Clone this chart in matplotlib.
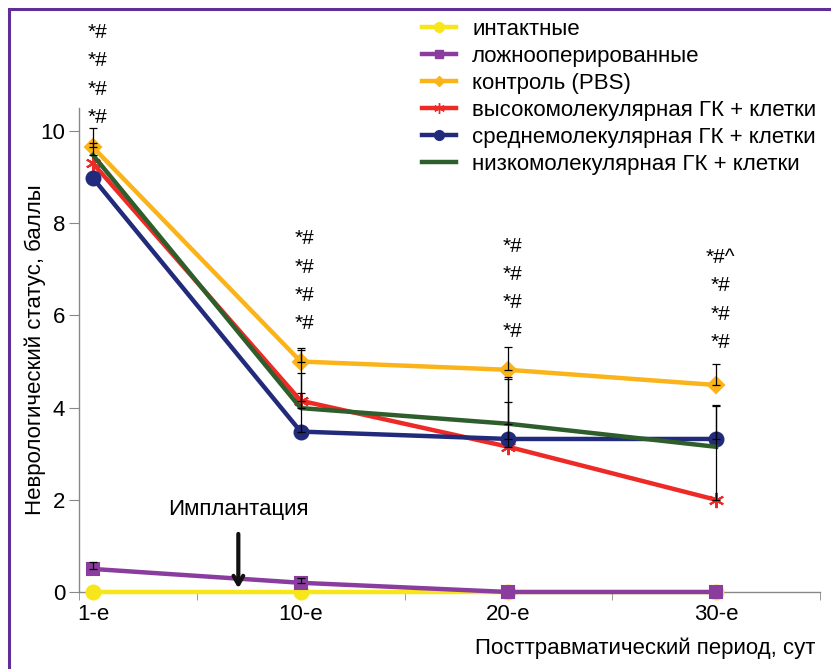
import numpy as np
import matplotlib.pyplot as plt
from matplotlib.patches import Rectangle

plt.rcParams['font.family'] = ['Liberation Sans', 'DejaVu Sans']

# --- data ---
days = ['1-е', '10-е', '20-е', '30-е']
labels = ['интактные', 'ложнооперированные', 'контроль (PBS)',
          'высокомолекулярная ГК + клетки', 'среднемолекулярная ГК + клетки',
          'низкомолекулярная ГК + клетки']

intact = [0, 0, 0, 0]
sham = [0.5, 0.2, 0, 0]
control = [9.65, 5.0, 4.82, 4.49]
high_mw = [9.3, 4.15, 3.15, 2.0]
mid_mw = [8.98, 3.48, 3.32, 3.32]
low_mw = [9.48, 3.99, 3.65, 3.15]

# upper ends of the error bars
intact_top = [0, 0, 0, 0]
sham_top = [0.65, 0.3, 0, 0]
control_top = [10.07, 5.29, 5.32, 4.95]
high_top = [9.3, 4.75, 4.12, 4.05]
mid_top = [8.98, 5.25, 4.66, 4.03]
low_top = [9.74, 4.32, 4.62, 3.15]

marks = [['*#', '*#', '*#', '*#'],
         ['*#', '*#', '*#', '*#'],
         ['*#', '*#', '*#', '*#'],
         ['*#^', '*#', '*#', '*#']]

series = [intact, sham, control, high_mw, mid_mw, low_mw]
tops = [intact_top, sham_top, control_top, high_top, mid_top, low_top]
colors = ['#f6e61a', '#8a3d9f', '#fbb31a', '#ee2a26', '#222a7c', '#2e5e2c']
markers = ['o', 's', 'D', (6, 2, 0), 'o', None]
msizes = [10, 9, 8, 11, 10, 0]

FS = 16
W, H = 831, 669
fig = plt.figure(figsize=(W / 100, H / 100), dpi=100)
fig.add_artist(Rectangle((8.5 / W, -0.05), 1.3, 1 - 8.5 / H + 0.05,
                         transform=fig.transFigure, fill=False,
                         edgecolor='#5e2f94', linewidth=2.2))

ax = fig.add_axes([79 / W, 1 - 592 / H, (820 - 79) / W, (592 - 108) / H])
x = np.arange(len(days))

for vals, col, mk, ms in zip(series, colors, markers, msizes):
    ax.plot(x, vals, color=col, lw=3.2, marker=mk, ms=ms, mew=1.5,
            clip_on=False, zorder=3)

for vals, top in zip(series, tops):
    vals = np.array(vals, dtype=float)
    up = np.array(top, dtype=float) - vals
    keep = up > 0
    if keep.any():
        ax.errorbar(x[keep], vals[keep], yerr=[np.zeros(keep.sum()), up[keep]],
                    fmt='none', ecolor='black', elinewidth=0.9, capsize=3,
                    capthick=0.9, zorder=4)

# significance marks above each time point
mark_base = [10.3, 5.83, 5.66, 5.42]
for i, col_marks in enumerate(marks):
    for j, m in enumerate(reversed(col_marks)):
        ax.text(x[i] + 0.02, mark_base[i] + j * 0.61, m, ha='center',
                va='center', fontsize=15, clip_on=False)

ax.annotate('', xy=(0.70, 0.02), xytext=(0.70, 1.32),
            arrowprops=dict(arrowstyle='->,head_width=0.35,head_length=0.6',
                            lw=3, color='#111111'), zorder=5)
ax.text(0.70, 1.78, 'Имплантация', ha='center', va='center', fontsize=FS)

ax.set_xlim(-0.067, 3.5)
ax.set_ylim(0, 10.5)
ax.set_xticks(x)
ax.set_xticklabels(days, fontsize=FS)
ax.set_xticks([-0.067, 0.5, 1.5, 2.5, 3.5], minor=True)
ax.tick_params(axis='x', which='major', length=0, pad=9)
ax.tick_params(axis='x', which='minor', length=6, color='#888888', direction='out')
ax.set_yticks(range(0, 11, 2))
ax.tick_params(axis='y', length=7, color='#888888', labelsize=FS, pad=3)
for s in ['top', 'right']:
    ax.spines[s].set_visible(False)
for s in ['left', 'bottom']:
    ax.spines[s].set_color('#888888')
    ax.spines[s].set_linewidth(1)

ax.set_ylabel('Неврологический статус, баллы', fontsize=FS)
ax.yaxis.set_label_coords(-0.045, 0.5)
fig.text(815 / W, 1 - 648 / H, 'Посттравматический период, сут',
         ha='right', va='center', fontsize=FS)

handles = [plt.Line2D([], [], color=c, lw=3.2, marker=m, ms=s * 0.7)
           for c, m, s in zip(colors, markers, msizes)]
fig.legend(handles, labels, loc='upper left', bbox_to_anchor=(422 / W, 1 - 19 / H),
           frameon=False, fontsize=FS, handlelength=1.55, handletextpad=0.7,
           labelspacing=0.27, borderpad=0, borderaxespad=0)

fig.savefig('out.png', dpi=100)
